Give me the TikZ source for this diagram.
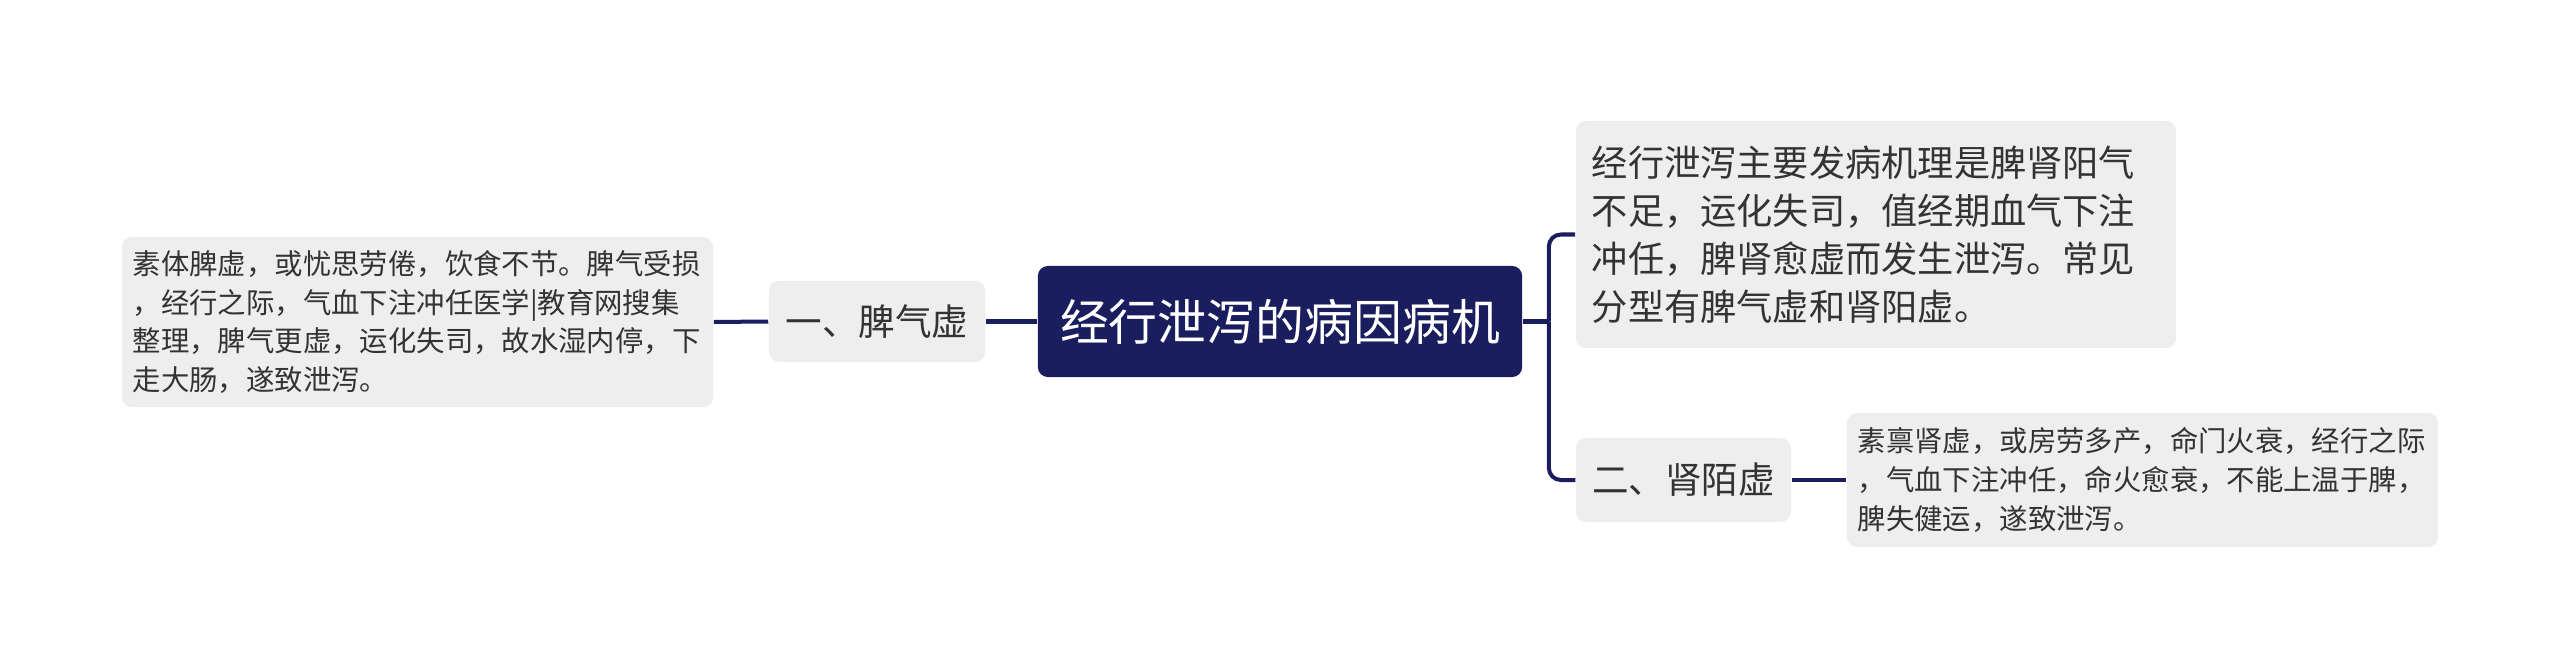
\documentclass[tikz,border=0pt]{standalone}
\usepackage{fontspec}
\setmainfont{Noto Sans CJK SC}
\usepackage{xcolor}
\usepackage{tikz}
\definecolor{navy}{HTML}{1B1E5E}
\definecolor{boxgray}{HTML}{EEEEEE}
\definecolor{ink}{HTML}{333333}

\begin{document}
\begin{tikzpicture}[x=0.01cm,y=-0.01cm]
        \tikzset{box/.style={fill=boxgray,rounded corners=0.1cm,text=ink,inner sep=0pt,align=left},
        link/.style={draw=navy,line width=0.04cm}}
        \useasboundingbox (0,0) rectangle (2560,670);

        % centre
        \node[fill=navy,rounded corners=0.1cm,text=white,inner sep=0pt,minimum width=4.84cm,minimum height=1.11cm,
            font=\fontsize{13.9}{17}\selectfont] (root) at (1280,321.5) {经行泄泻的病因病机};

        % left row
        \node[box,minimum width=2.16cm,minimum height=0.81cm,font=\fontsize{10.4}{13}\selectfont]
            (spleen) at (877,321.5) {一、脾气虚};
        \node[box,inner xsep=0.11cm,text width=5.69cm,minimum height=1.70cm,font=\fontsize{8.07}{11}\selectfont]
            (spleenTxt) at (417.5,322) {素体脾虚，或忧思劳倦，饮食不节。脾气受损\\，经行之际，气血下注冲任医学|教育网搜集\\整理，脾气更虚，运化失司，故水湿内停，下\\走大肠，遂致泄泻。};

        % right row
        \node[box,inner xsep=0.16cm,text width=5.68cm,minimum height=2.27cm,font=\fontsize{10.3}{13.6}\selectfont]
            (desc) at (1876,234.5) {经行泄泻主要发病机理是脾肾阳气\\不足，运化失司，值经期血气下注\\冲任，脾肾愈虚而发生泄泻。常见\\分型有脾气虚和肾阳虚。};
        \node[box,minimum width=2.15cm,minimum height=0.84cm,font=\fontsize{10.4}{13}\selectfont]
            (kidney) at (1683.5,480) {二、肾陌虚};
        \node[box,inner xsep=0.11cm,text width=5.69cm,minimum height=1.34cm,font=\fontsize{8.07}{11}\selectfont]
            (kidneyTxt) at (2142.5,480) {素禀肾虚，或房劳多产，命门火衰，经行之际\\，气血下注冲任，命火愈衰，不能上温于脾，\\脾失健运，遂致泄泻。};

        % lines
        % to the left
        \draw[link] (root.west) -- (spleen.east);
        \draw[link] (spleen.west) -- (spleenTxt.east);
        % to the right
        \draw[link] (root.east) -- ++(26,0) coordinate (fork);
        \draw[link,rounded corners=0.12cm] (fork) |- (desc.west);
        \draw[link,rounded corners=0.12cm] (fork) |- (kidney.west);
        \draw[link] (kidney.east) -- (kidneyTxt.west);
    \end{tikzpicture}
\end{document}
